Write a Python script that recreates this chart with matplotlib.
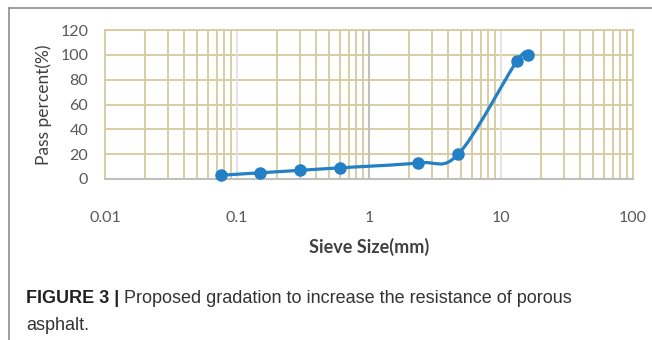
import numpy as np
import matplotlib
matplotlib.use("Agg")
import matplotlib.pyplot as plt
from matplotlib.path import Path
from matplotlib.patches import PathPatch
from matplotlib.lines import Line2D

sieve_mm = [0.075, 0.15, 0.3, 0.6, 2.36, 4.75, 13.2, 16]
pass_pct = [3, 5, 7, 9, 13, 20, 95, 100]
x_ticks = [0.01, 0.1, 1, 10, 100]
x_tick_labels = ["0.01", "0.1", "1", "10", "100"]
y_ticks = [0, 20, 40, 60, 80, 100, 120]

W, H = 652, 340
fig = plt.figure(figsize=(W / 100, H / 100), dpi=100)
ax = fig.add_axes([105 / W, 1 - 179 / H, (633 - 105) / W, (179 - 30) / H])
ax.set_xscale("log")
ax.set_xlim(0.01, 100)
ax.set_ylim(0, 120)

tan = "#D6CA9E"
# grid
for y in y_ticks[1:]:
    ax.axhline(y, color=tan, lw=1.3, zorder=1)
for d in [0.01, 0.1, 1, 10]:
    for m in range(2, 10):
        ax.axvline(d * m, color=tan, lw=1.3, zorder=1)
ax.axvline(0.1, color="#E2E2E2", lw=1.3, zorder=1.1)
ax.axvline(1, color="#C0C0C0", lw=1.5, zorder=1.1)
ax.axvline(10, color="#E2E2E2", lw=1.3, zorder=1.1)

for s in ["top", "right", "left"]:
    ax.spines[s].set_color(tan)
    ax.spines[s].set_linewidth(1.3)
ax.spines["bottom"].set_color("#BFBFBF")
ax.spines["bottom"].set_linewidth(1.5)
ax.spines["bottom"].set_zorder(3)

ax.set_xticks(x_ticks)
ax.set_xticklabels(x_tick_labels)
ax.xaxis.set_minor_locator(matplotlib.ticker.NullLocator())
ax.set_yticks(y_ticks)
ax.tick_params(length=0, colors="#595959", labelsize=11.5)
ax.tick_params(axis="x", pad=23)
ax.tick_params(axis="y", pad=12)
for lab in ax.get_xticklabels() + ax.get_yticklabels():
    lab.set_fontfamily("Lato")

ax.set_ylabel("Pass percent(%)", fontsize=12.5, color="#404040", family="Lato", labelpad=6)
ax.set_xlabel("Sieve Size(mm)", fontsize=13, color="#404040", family="Lato",
              fontweight="bold", labelpad=9)

# smoothed line (Excel-like Catmull-Rom in display-proportional space)
sx, sy = 132.0, 149.0 / 120.0
u = np.log10(np.array(sieve_mm)) * sx
v = np.array(pass_pct, dtype=float) * sy
n = len(u)
verts = [(u[0], v[0])]
codes = [Path.MOVETO]
for i in range(n - 1):
    p0 = np.array([u[max(i - 1, 0)], v[max(i - 1, 0)]])
    p1 = np.array([u[i], v[i]])
    p2 = np.array([u[i + 1], v[i + 1]])
    p3 = np.array([u[min(i + 2, n - 1)], v[min(i + 2, n - 1)]])
    c1 = p1 + (p2 - p0) / 6.0
    c2 = p2 - (p3 - p1) / 6.0
    verts += [tuple(c1), tuple(c2), tuple(p2)]
    codes += [Path.CURVE4] * 3
verts = [(10 ** (a / sx), b / sy) for a, b in verts]
path = Path(verts, codes)
ax.add_patch(PathPatch(path, facecolor="none", edgecolor="#2380C4", lw=2.3,
                       zorder=4, capstyle="round"))
ax.plot(sieve_mm, pass_pct, "o", color="#2380C4", ms=8, zorder=5, clip_on=False)

# chart border
fig.add_artist(Line2D([9 / W, 9 / W], [0, 1 - 8 / H], transform=fig.transFigure,
                      color="#8C8C8C", lw=1.2))
fig.add_artist(Line2D([9 / W, 1], [1 - 8 / H, 1 - 8 / H], transform=fig.transFigure,
                      color="#8C8C8C", lw=1.2))

# caption
cap_y1 = 1 - 303 / H
cap_y2 = 1 - 330 / H
t = fig.text(26 / W, cap_y1, "FIGURE 3 |", fontsize=13, fontweight="bold",
             family="Liberation Sans", color="#222222", va="baseline")
fig.canvas.draw()
bb = t.get_window_extent()
fig.text((bb.x1 + 5) / W, cap_y1,
         "Proposed gradation to increase the resistance of porous",
         fontsize=13, family="Liberation Sans", color="#333333", va="baseline")
fig.text(26 / W, cap_y2, "asphalt.", fontsize=13, family="Liberation Sans",
         color="#333333", va="baseline")

fig.savefig("out.png", dpi=100)
